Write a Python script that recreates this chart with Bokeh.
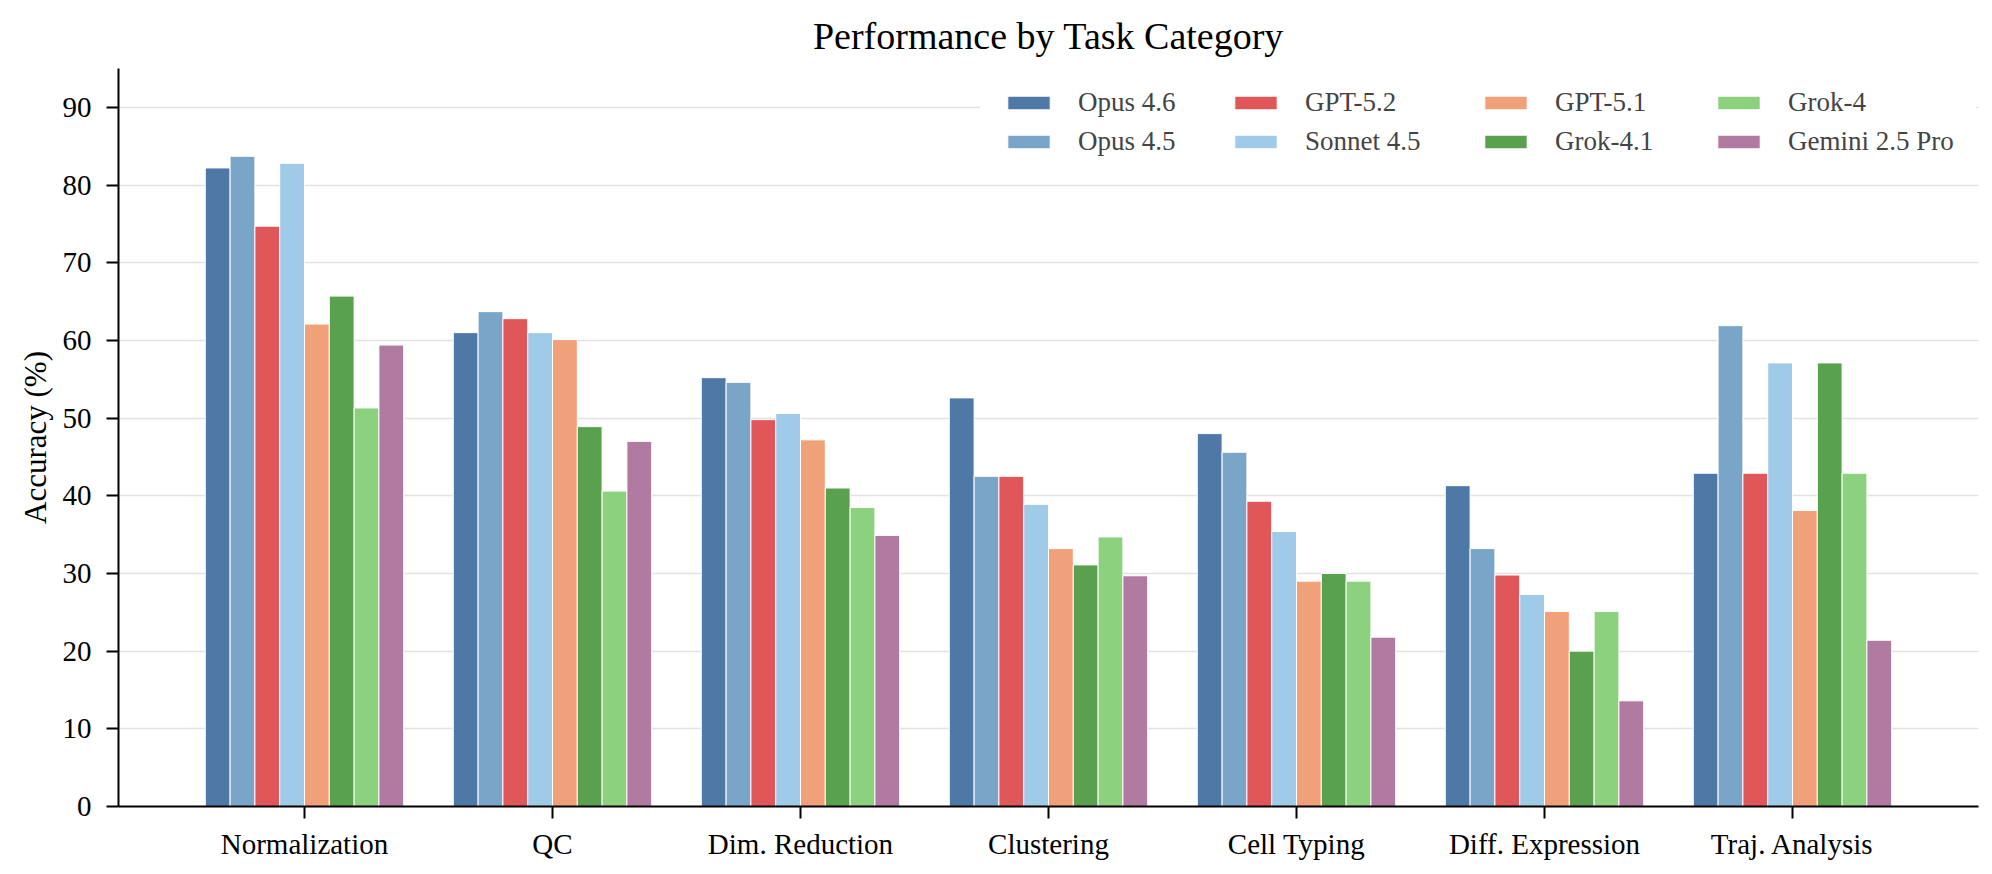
import numpy as np
from bokeh.plotting import figure
from bokeh.models import Range1d, FixedTicker, Legend, LegendItem
from bokeh.embed import file_html
from bokeh.resources import INLINE

categories = ["Normalization", "QC", "Dim. Reduction", "Clustering",
              "Cell Typing", "Diff. Expression", "Traj. Analysis"]
models = ["Opus 4.6", "Opus 4.5", "GPT-5.2", "Sonnet 4.5",
          "GPT-5.1", "Grok-4.1", "Grok-4", "Gemini 2.5 Pro"]
colors = ["#4e79a7", "#79a5c9", "#e15759", "#a0cbe8",
          "#f1a17a", "#59a14f", "#8cd17d", "#b07aa1"]

opus_46 = [82.2, 61.0, 55.2, 52.6, 48.0, 41.3, 42.9]
opus_45 = [83.7, 63.7, 54.6, 42.5, 45.6, 33.2, 61.9]
gpt_52 = [74.7, 62.8, 49.8, 42.5, 39.3, 29.8, 42.9]
sonnet_45 = [82.8, 61.0, 50.6, 38.9, 35.4, 27.3, 57.1]
gpt_51 = [62.1, 60.1, 47.2, 33.2, 29.0, 25.1, 38.1]
grok_41 = [65.7, 48.9, 41.0, 31.1, 30.0, 20.0, 57.1]
grok_4 = [51.3, 40.6, 38.5, 34.7, 29.0, 25.1, 42.9]
gemini_25 = [59.4, 47.0, 34.9, 29.7, 21.8, 13.6, 21.4]

series = [opus_46, opus_45, gpt_52, sonnet_45, gpt_51, grok_41, grok_4, gemini_25]
y_ticks = [0, 10, 20, 30, 40, 50, 60, 70, 80, 90]

FONT = "Liberation Serif"

p = figure(width=1990, height=872, output_backend="svg", toolbar_location=None,
           x_range=Range1d(-0.75, 6.75), y_range=Range1d(0, 95),
           min_border_left=118, min_border_right=12, min_border_top=66,
           min_border_bottom=66)

p.title.text = "Performance by Task Category"
p.title.align = "center"
p.title.vertical_align = "bottom"
p.title.text_font = FONT
p.title.text_font_size = "38px"
p.title.text_font_style = "normal"
p.title.text_color = "black"
p.title.offset = 0
p.title.standoff = 24

xs = np.arange(len(categories))
bar_w = 0.1
n = len(models)
renderers = []
for i, (name, vals, col) in enumerate(zip(models, series, colors)):
    off = (i - (n - 1) / 2) * bar_w
    r = p.vbar(x=xs + off, top=vals, width=bar_w, bottom=0,
               fill_color=col, line_color="white", line_width=1)
    renderers.append(r)

p.xaxis.ticker = FixedTicker(ticks=list(xs))
p.xaxis.major_label_overrides = {int(i): c for i, c in zip(xs, categories)}
p.yaxis.ticker = FixedTicker(ticks=y_ticks)
p.xaxis.minor_tick_line_color = None
p.yaxis.minor_tick_line_color = None

for ax in (p.xaxis, p.yaxis):
    ax.axis_line_width = 2
    ax.axis_line_color = "black"
    ax.major_tick_line_width = 2
    ax.major_tick_line_color = "black"
    ax.major_tick_out = 12
    ax.major_tick_in = 0
    ax.major_label_text_font = FONT
    ax.major_label_text_font_size = "29px"
    ax.major_label_text_color = "black"
    ax.axis_label_text_font = FONT
    ax.axis_label_text_font_style = "normal"
    ax.axis_label_text_color = "black"

p.xaxis.major_label_standoff = 9
p.yaxis.major_label_standoff = 15
p.yaxis.axis_label = "Accuracy (%)"
p.yaxis.axis_label_text_font_size = "31px"
p.yaxis.axis_label_standoff = 7

p.xgrid.grid_line_color = None
p.ygrid.grid_line_color = "#e2e2e2"
p.ygrid.grid_line_width = 1.5
p.ygrid.ticker = FixedTicker(ticks=y_ticks)
p.outline_line_color = None

# legend: four columns of two entries, column-major like the reference
pad = 22
glyph_w, standoff = 53, 23
col_left = [884, 1111, 1361, 1594]   # swatch left edge, px from frame left
leg_bottom = 806 - (157 + pad)       # px from frame bottom
for c in range(4):
    its = [LegendItem(label=models[2 * c + k], renderers=[renderers[2 * c + k]])
           for k in range(2)]
    lg = Legend(items=its, location=(col_left[c] - pad, leg_bottom),
                orientation="vertical")
    if c < 3:
        lg.label_width = col_left[c + 1] - col_left[c] - glyph_w - standoff - 2 * pad + 2
    lg.label_text_font = FONT
    lg.label_text_font_size = "27px"
    lg.glyph_width = glyph_w
    lg.glyph_height = 17
    lg.label_standoff = standoff
    lg.spacing = 8
    lg.margin = 0
    lg.padding = pad
    lg.border_line_alpha = 0
    lg.background_fill_color = "white"
    lg.background_fill_alpha = 1
    p.add_layout(lg)

open("out.html", "w").write(file_html(p, INLINE))
